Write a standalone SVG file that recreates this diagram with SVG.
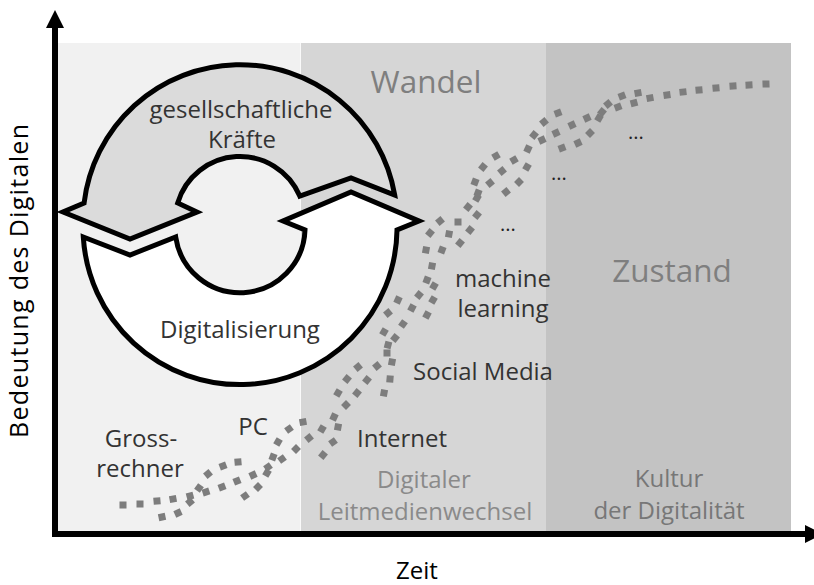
<svg xmlns="http://www.w3.org/2000/svg" width="814" height="585" viewBox="0 0 814 585">
<style>
text{font-family:"Open Sans","Noto Sans","DejaVu Sans",sans-serif;}
.lbl{font-size:24px;fill:#333333;}
.big{font-size:31.5px;fill:#7f7f7f;}
.phase1{font-size:24px;fill:#8a8a8a;}
.phase2{font-size:24px;fill:#777777;}
.dots{font-size:20px;fill:#222222;}
.axlbl{font-size:24px;fill:#000000;}
.cyc{stroke:#000000;stroke-width:5;stroke-linejoin:miter;}
</style>
<defs>
<rect id="d" x="-3.5" y="-3.5" width="7" height="7" fill="#7d7d7d"/>
<marker id="ah" viewBox="0 0 18 18" refX="0" refY="9" markerWidth="18" markerHeight="18" markerUnits="userSpaceOnUse" orient="auto"><path d="M0,0 L18,9 L0,18 Z" fill="#000"/></marker>
</defs>
<g id="background">
<rect x="58" y="43" width="243" height="490" fill="#f1f1f1"/>
<rect x="301" y="43" width="245" height="490" fill="#d6d6d6"/>
<rect x="546" y="43" width="245" height="490" fill="#c3c3c3"/>
<line x1="300.5" y1="43" x2="300.5" y2="531" stroke="#fafafa" stroke-width="1"/>
</g>
<g id="curves">
<use href="#d" transform="translate(123 505) rotate(0)"/>
<use href="#d" transform="translate(140 504) rotate(0)"/>
<use href="#d" transform="translate(157 501) rotate(-5)"/>
<use href="#d" transform="translate(173 499) rotate(-10)"/>
<use href="#d" transform="translate(190 496) rotate(-15)"/>
<use href="#d" transform="translate(162 517) rotate(-12)"/>
<use href="#d" transform="translate(178 513) rotate(-25)"/>
<use href="#d" transform="translate(190 502) rotate(-40)"/>
<use href="#d" transform="translate(199 488) rotate(-55)"/>
<use href="#d" transform="translate(208 474) rotate(-40)"/>
<use href="#d" transform="translate(223 466) rotate(-20)"/>
<use href="#d" transform="translate(238 462) rotate(-5)"/>
<use href="#d" transform="translate(206 492) rotate(-18)"/>
<use href="#d" transform="translate(222 487) rotate(-20)"/>
<use href="#d" transform="translate(237 481) rotate(-22)"/>
<use href="#d" transform="translate(253 475) rotate(-25)"/>
<use href="#d" transform="translate(268 467) rotate(-35)"/>
<use href="#d" transform="translate(245 496) rotate(-35)"/>
<use href="#d" transform="translate(258 487) rotate(-45)"/>
<use href="#d" transform="translate(267 473) rotate(-60)"/>
<use href="#d" transform="translate(273 457) rotate(-70)"/>
<use href="#d" transform="translate(278 442) rotate(-60)"/>
<use href="#d" transform="translate(289 429) rotate(-35)"/>
<use href="#d" transform="translate(303 422) rotate(-10)"/>
<use href="#d" transform="translate(282 459) rotate(-35)"/>
<use href="#d" transform="translate(296 449) rotate(-45)"/>
<use href="#d" transform="translate(309 438) rotate(-40)"/>
<use href="#d" transform="translate(322 429) rotate(30)"/>
<use href="#d" transform="translate(333 442) rotate(55)"/>
<use href="#d" transform="translate(323 455) rotate(40)"/>
<use href="#d" transform="translate(334 417) rotate(-65)"/>
<use href="#d" transform="translate(338 427) rotate(-80)"/>
<use href="#d" transform="translate(346 405) rotate(-45)"/>
<use href="#d" transform="translate(338 393) rotate(-60)"/>
<use href="#d" transform="translate(347 379) rotate(-50)"/>
<use href="#d" transform="translate(358 367) rotate(-40)"/>
<use href="#d" transform="translate(357 393) rotate(-50)"/>
<use href="#d" transform="translate(367 380) rotate(-50)"/>
<use href="#d" transform="translate(377 366) rotate(-40)"/>
<use href="#d" transform="translate(384 393) rotate(-80)"/>
<use href="#d" transform="translate(390 379) rotate(-85)"/>
<use href="#d" transform="translate(392 362) rotate(-80)"/>
<use href="#d" transform="translate(387 353) rotate(-90)"/>
<use href="#d" transform="translate(388 345) rotate(-75)"/>
<use href="#d" transform="translate(384 332) rotate(-60)"/>
<use href="#d" transform="translate(395 338) rotate(-50)"/>
<use href="#d" transform="translate(388 313) rotate(-40)"/>
<use href="#d" transform="translate(403 324) rotate(35)"/>
<use href="#d" transform="translate(398 300) rotate(25)"/>
<use href="#d" transform="translate(412 308) rotate(28)"/>
<use href="#d" transform="translate(427 315) rotate(28)"/>
<use href="#d" transform="translate(419 295) rotate(-50)"/>
<use href="#d" transform="translate(433 300) rotate(30)"/>
<use href="#d" transform="translate(427 280) rotate(-70)"/>
<use href="#d" transform="translate(434 286) rotate(-60)"/>
<use href="#d" transform="translate(432 266) rotate(-80)"/>
<use href="#d" transform="translate(426 250) rotate(-80)"/>
<use href="#d" transform="translate(442 250) rotate(-70)"/>
<use href="#d" transform="translate(430 233) rotate(-50)"/>
<use href="#d" transform="translate(449 234) rotate(10)"/>
<use href="#d" transform="translate(460 243) rotate(40)"/>
<use href="#d" transform="translate(470 230) rotate(-50)"/>
<use href="#d" transform="translate(440 221) rotate(-40)"/>
<use href="#d" transform="translate(458 222) rotate(0)"/>
<use href="#d" transform="translate(468 207) rotate(-50)"/>
<use href="#d" transform="translate(477 215) rotate(-50)"/>
<use href="#d" transform="translate(477 198) rotate(-60)"/>
<use href="#d" transform="translate(478 193) rotate(-70)"/>
<use href="#d" transform="translate(475 182) rotate(-70)"/>
<use href="#d" transform="translate(483 167) rotate(-50)"/>
<use href="#d" transform="translate(496 156) rotate(-30)"/>
<use href="#d" transform="translate(490 183) rotate(-40)"/>
<use href="#d" transform="translate(502 171) rotate(-40)"/>
<use href="#d" transform="translate(514 160) rotate(-30)"/>
<use href="#d" transform="translate(506 192) rotate(-40)"/>
<use href="#d" transform="translate(519 182) rotate(-45)"/>
<use href="#d" transform="translate(527 167) rotate(-60)"/>
<use href="#d" transform="translate(528 149) rotate(-65)"/>
<use href="#d" transform="translate(534 135) rotate(-50)"/>
<use href="#d" transform="translate(544 122) rotate(-40)"/>
<use href="#d" transform="translate(558 113) rotate(-20)"/>
<use href="#d" transform="translate(542 140) rotate(-25)"/>
<use href="#d" transform="translate(556 133) rotate(-25)"/>
<use href="#d" transform="translate(572 125) rotate(-25)"/>
<use href="#d" transform="translate(587 118) rotate(-25)"/>
<use href="#d" transform="translate(562 148) rotate(-20)"/>
<use href="#d" transform="translate(578 143) rotate(-25)"/>
<use href="#d" transform="translate(590 133) rotate(-45)"/>
<use href="#d" transform="translate(599 118) rotate(-60)"/>
<use href="#d" transform="translate(602 112) rotate(-50)"/>
<use href="#d" transform="translate(608 104) rotate(-40)"/>
<use href="#d" transform="translate(622 96) rotate(-20)"/>
<use href="#d" transform="translate(638 93) rotate(-10)"/>
<use href="#d" transform="translate(618 107) rotate(-20)"/>
<use href="#d" transform="translate(634 103) rotate(-15)"/>
<use href="#d" transform="translate(650 98) rotate(-10)"/>
<use href="#d" transform="translate(667 95) rotate(-8)"/>
<use href="#d" transform="translate(683 92) rotate(-6)"/>
<use href="#d" transform="translate(699 90) rotate(-5)"/>
<use href="#d" transform="translate(716 88) rotate(-5)"/>
<use href="#d" transform="translate(733 86) rotate(-4)"/>
<use href="#d" transform="translate(749 85) rotate(-3)"/>
<use href="#d" transform="translate(766 84) rotate(-2)"/>
</g>
<g id="axes">
<line x1="55" y1="537" x2="55" y2="28" stroke="#000" stroke-width="6" marker-end="url(#ah)"/>
<line x1="52" y1="534" x2="805" y2="534" stroke="#000" stroke-width="6" marker-end="url(#ah)"/>
</g>
<g id="node-gesellschaftliche-kraefte">
<path class="cyc" fill="#dbdbdb" d="M84.1,203 A157,157 0 0 1 394.7,195 L351,178 L299.8,196 A65,65 0 0 0 177.7,203 L197,212 L130,239 L63,212 Z"/>
<text class="lbl" x="241" y="118" text-anchor="middle">gesellschaftliche</text>
<text class="lbl" x="242" y="148" text-anchor="middle">Kräfte</text>
</g>
<g id="node-digitalisierung">
<path class="cyc" fill="#ffffff" d="M83.3,237 L130,255 L175.7,237 A65,65 0 0 0 305,230 L283,221 L351,192 L419,221 L397,230 A157,157 0 0 1 83.3,237 Z"/>
<text class="lbl" x="240" y="338" text-anchor="middle">Digitalisierung</text>
</g>
<g id="labels">
<text class="big" x="426" y="93" text-anchor="middle">Wandel</text>
<text class="big" x="672" y="282" text-anchor="middle">Zustand</text>
<text class="lbl" x="503" y="287" text-anchor="middle">machine</text>
<text class="lbl" x="503" y="317" text-anchor="middle">learning</text>
<text class="lbl" x="483" y="380" text-anchor="middle">Social Media</text>
<text class="lbl" x="402" y="447" text-anchor="middle">Internet</text>
<text class="lbl" x="253" y="435" text-anchor="middle">PC</text>
<text class="lbl" x="141" y="447" text-anchor="middle">Gross-</text>
<text class="lbl" x="140" y="477" text-anchor="middle">rechner</text>
<text class="dots" x="636" y="139" text-anchor="middle">...</text>
<text class="dots" x="559" y="180" text-anchor="middle">...</text>
<text class="dots" x="508" y="231" text-anchor="middle">...</text>
<text class="phase1" x="424" y="488" text-anchor="middle">Digitaler</text>
<text class="phase1" x="425" y="520" text-anchor="middle">Leitmedienwechsel</text>
<text class="phase2" x="669" y="487" text-anchor="middle">Kultur</text>
<text class="phase2" x="669" y="519" text-anchor="middle">der Digitalität</text>
<text class="axlbl" x="417" y="579" text-anchor="middle">Zeit</text>
<text class="axlbl" style="font-size:25px" transform="translate(28 281) rotate(-90)" text-anchor="middle" textLength="314" lengthAdjust="spacing">Bedeutung des Digitalen</text>
</g>
</svg>
